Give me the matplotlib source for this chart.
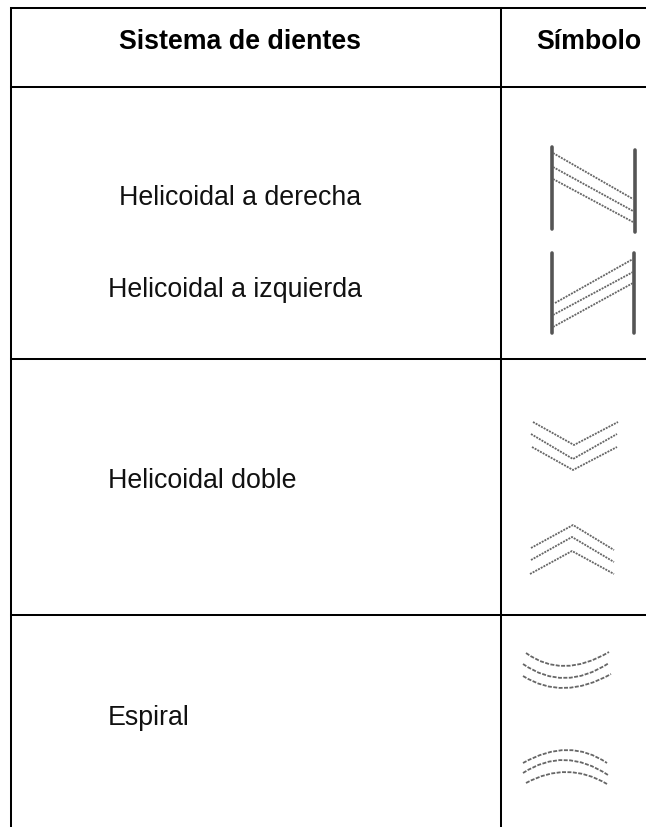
import matplotlib
matplotlib.use("Agg")
import matplotlib.pyplot as plt
from matplotlib.path import Path
from matplotlib.patches import PathPatch

W, H = 646, 827
plt.rcParams['font.family'] = ['Liberation Sans', 'DejaVu Sans']

# table content
header_labels = ["Sistema de dientes", "Símbolo"]
header_x = [119, 536]
header_y = 49
row_labels = ["Helicoidal a derecha", "Helicoidal a izquierda", "Helicoidal doble", "Espiral"]
row_label_x = [119, 108, 108, 108]
row_label_y = [205, 297, 488, 725]

# grid
h_rules = [8, 87, 359, 615]
v_rules = [11, 501]

# symbols (pixel space of the drawing)
bars = [(552, 147, 229), (635, 150, 232), (552, 253, 333), (634, 253, 333)]
slants = [
    [(553, 153), (633, 199)], [(553, 167), (633, 211)], [(553, 179), (633, 222)],
    [(555, 303), (633, 259)], [(553, 315), (633, 272)], [(553, 327), (633, 283)],
]
chevrons = [
    [(533, 422), (574, 445), (618, 422)], [(531, 434), (573, 459), (617, 434)],
    [(532, 447), (573, 470), (617, 447)],
    [(531, 548), (573, 525), (614, 550)], [(531, 560), (572, 537), (614, 562)],
    [(530, 574), (572, 551), (614, 574)],
]
arcs = [
    [(526, 653), (565, 666), (609, 652)], [(523, 664), (565, 678), (609, 663)],
    [(523, 676), (565, 688), (611, 674)],
    [(523, 763), (567, 750), (607, 763)], [(523, 773), (565, 760), (608, 775)],
    [(526, 783), (567, 772), (607, 784)],
]

fig = plt.figure(figsize=(W / 100, H / 100), dpi=100)
ax = fig.add_axes([0, 0, 1, 1])
ax.set_xlim(0, W)
ax.set_ylim(H, 0)
ax.axis('off')

for y in h_rules:
    ax.plot([v_rules[0], W], [y, y], color='black', lw=1.45, solid_capstyle='projecting')
for x in v_rules:
    ax.plot([x, x], [h_rules[0], H], color='black', lw=1.45, solid_capstyle='projecting')

for text, x in zip(header_labels, header_x):
    ax.text(x, header_y, text, ha='left', va='baseline', fontsize=19.3, fontweight='bold', color='black')
for text, x, y in zip(row_labels, row_label_x, row_label_y):
    ax.text(x, y, text, ha='left', va='baseline', fontsize=19.3, color='#111111')

dots = dict(color='#666666', lw=1.3, linestyle=(0, (1.1, 0.6)))
for x, y0, y1 in bars:
    ax.plot([x, x], [y0, y1], color='#555555', lw=2.6, solid_capstyle='round')
for line in slants + chevrons:
    ax.plot(*zip(*line), **dots)
for (a, m, b) in arcs:
    ctrl = (2 * m[0] - (a[0] + b[0]) / 2, 2 * m[1] - (a[1] + b[1]) / 2)
    ax.add_patch(PathPatch(Path([a, ctrl, b], [Path.MOVETO, Path.CURVE3, Path.CURVE3]),
                           fill=False, edgecolor='#666666', lw=1.3, linestyle=(0, (2.2, 0.8))))

fig.savefig('out.png', dpi=100, facecolor='white')
